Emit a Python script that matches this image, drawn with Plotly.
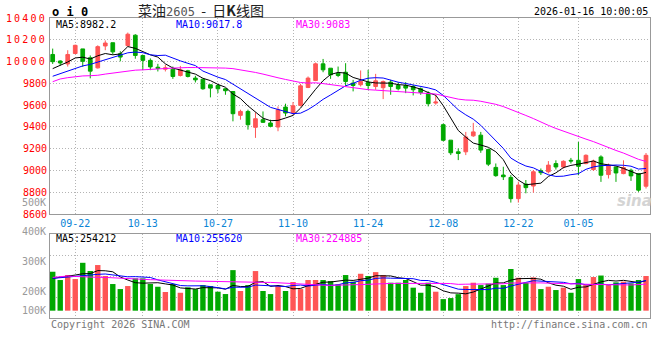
import plotly.graph_objects as go

# ---------------- data ----------------
dates = ["09-17", "09-18", "09-19", "09-22", "09-23", "09-24", "09-25", "09-26", "09-29", "09-30",
         "10-09", "10-10", "10-13", "10-14", "10-15", "10-16", "10-17", "10-20", "10-21", "10-22",
         "10-23", "10-24", "10-27", "10-28", "10-29", "10-30", "10-31", "11-03", "11-04", "11-05",
         "11-06", "11-07", "11-10", "11-11", "11-12", "11-13", "11-14", "11-17", "11-18", "11-19",
         "11-20", "11-21", "11-24", "11-25", "11-26", "11-27", "11-28", "12-01", "12-02", "12-03",
         "12-04", "12-05", "12-08", "12-09", "12-10", "12-11", "12-12", "12-15", "12-16", "12-17",
         "12-18", "12-19", "12-22", "12-23", "12-24", "12-25", "12-26", "12-29", "12-30", "12-31",
         "01-05", "01-06", "01-07", "01-08", "01-09", "01-12", "01-13", "01-14", "01-15", "01-16"]

opens = [10065, 10005, 9978, 10074, 10116, 10035, 9942, 10143, 10173, 10071,
         10146, 10242, 10056, 10011, 9948, 9930, 9930, 9872, 9915, 9848,
         9838, 9787, 9780, 9750, 9725, 9506, 9542, 9396, 9466, 9436,
         9399, 9582, 9527, 9597, 9762, 9826, 9979, 9939, 9893, 9902,
         9802, 9787, 9808, 9771, 9760, 9811, 9780, 9780, 9771, 9750,
         9710, 9619, 9420, 9278, 9171, 9171, 9318, 9324, 9193, 9028,
         8958, 8936, 8741, 8875, 8857, 8997, 8988, 9063, 9032, 9093,
         9093, 9063, 9008, 9124, 8962, 9032, 8971, 9002, 8971, 8855]
highs = [10119, 10011, 10104, 10155, 10116, 10056, 10149, 10194, 10173, 10095,
         10266, 10251, 10060, 10029, 9979, 9970, 9954, 9960, 9924, 9869,
         9838, 9787, 9793, 9756, 9725, 9558, 9558, 9533, 9542, 9466,
         9588, 9613, 9628, 9796, 9863, 9991, 10024, 9939, 9954, 9985,
         9832, 9918, 9924, 9887, 9826, 9832, 9811, 9811, 9787, 9762,
         9726, 9695, 9430, 9278, 9202, 9354, 9437, 9354, 9193, 9064,
         9034, 8958, 8897, 8912, 9004, 9018, 9086, 9093, 9093, 9115,
         9261, 9148, 9099, 9139, 9063, 9032, 9093, 9017, 8977, 9160]
lows = [9978, 9963, 9954, 10068, 9951, 9846, 9936, 10104, 10065, 10002,
        10140, 10026, 9921, 9921, 9909, 9909, 9841, 9863, 9854, 9808,
        9741, 9671, 9710, 9695, 9451, 9466, 9375, 9299, 9436, 9396,
        9360, 9497, 9512, 9588, 9756, 9820, 9902, 9841, 9857, 9777,
        9726, 9771, 9741, 9741, 9655, 9695, 9735, 9710, 9689, 9695,
        9588, 9604, 9268, 9141, 9095, 9141, 9308, 9162, 9040, 8942,
        8912, 8705, 8705, 8790, 8796, 8958, 8973, 9008, 9017, 9063,
        8956, 9057, 8996, 8895, 8926, 8895, 8965, 8904, 8804, 8834]
closes = [9999, 9987, 10065, 10149, 10002, 9912, 10137, 10170, 10089, 10041,
          10251, 10056, 10011, 9951, 9936, 9942, 9863, 9924, 9863, 9832,
          9750, 9756, 9750, 9732, 9521, 9542, 9420, 9475, 9442, 9405,
          9558, 9527, 9594, 9777, 9848, 9979, 9924, 9878, 9872, 9817,
          9780, 9817, 9780, 9823, 9817, 9771, 9750, 9756, 9741, 9716,
          9613, 9628, 9277, 9162, 9156, 9308, 9354, 9187, 9058, 8952,
          8942, 8741, 8866, 8842, 8988, 8979, 9049, 9032, 9084, 9087,
          9038, 9139, 9087, 8956, 9047, 8977, 9026, 8950, 8819, 9139]
volumes = [330120, 259870, 302350, 268040, 405880, 336210, 386930, 294170, 225940, 183260,
           208810, 274120, 273960, 226050, 202870, 158230, 225980, 151890, 198140, 182960,
           216870, 209150, 160940, 141120, 343860, 167050, 216930, 335880, 167140, 140920,
           209060, 166870, 243110, 183040, 259920, 260130, 259870, 251040, 222960, 302110,
           245880, 312940, 294060, 326880, 302150, 236940, 237080, 259960, 195040, 151920,
           237060, 160880, 98050, 106960, 140030, 208940, 237050, 216960, 229040, 278960,
           217030, 353370, 279030, 236970, 282040, 183010, 202960, 175030, 194970, 152010,
           267980, 217010, 285170, 297990, 216990, 240010, 245990, 231000, 259950, 294110]

# moving-average values before enough history is on screen
ma5_lead = [9935, 9965, 9996, 10033]
ma10_lead = [9865, 9889, 9914, 9941, 9960, 9974, 9996, 10011, 10036]
ma30_lead = [9815, 9840, 9852, 9862, 9868, 9870, 9874, 9885, 9895, 9906,
             9915, 9921, 9924, 9926, 9934, 9936, 9940, 9944, 9945, 9945,
             9945, 9945, 9944, 9940, 9935, 9925, 9912, 9900, 9885]
vol_ma5_lead = [274000, 282000, 294000, 302000]
vol_ma10_lead = [274000, 280000, 285000, 294000, 299000, 305000, 308000, 311000, 302000]
vol_ma30_lead = [282000, 288000, 294000, 290000, 286000, 284000, 283000, 282000, 280000, 276000,
                 272000, 268000, 266000, 263000, 260000, 258000, 256000, 254000, 252000, 251000,
                 250000, 248000, 246000, 244000, 242000, 241000, 240000, 240000, 240000]

tick_dates = ["09-22", "10-13", "10-27", "11-10", "11-24", "12-08", "12-22", "01-05"]
price_ticks = [8600, 8800, 9000, 9200, 9400, 9600, 9800, 10000, 10200, 10400]
vol_labels = ["500K", "400K", "300K", "200K", "100K"]

# ---------------- helpers ----------------
def moving(vals, n, lead):
    out = list(lead)
    for i in range(n - 1, len(vals)):
        out.append(sum(vals[i - n + 1:i + 1]) / n)
    return out

ma5 = moving(closes, 5, ma5_lead)
ma10 = moving(closes, 10, ma10_lead)
ma30 = moving(closes, 30, ma30_lead)
vma5 = moving(volumes, 5, vol_ma5_lead)
vma10 = moving(volumes, 10, vol_ma10_lead)
vma30 = moving(volumes, 30, vol_ma30_lead)

RED = "#FF5555"
GREEN = "#00A800"
MONO = "DejaVu Sans Mono"
GRID = "#b4b4b4"
DASH = "1px,2px"
BORDER = "#999999"

bar_colors = [RED if c >= o else GREEN for o, c in zip(opens, closes)]

fig = go.Figure()
fig.add_trace(go.Candlestick(
    x=dates, open=opens, high=highs, low=lows, close=closes,
    increasing=dict(line=dict(color=RED, width=1), fillcolor=RED),
    decreasing=dict(line=dict(color=GREEN, width=1), fillcolor=GREEN),
    whiskerwidth=0, showlegend=False, hoverinfo="skip", xaxis="x", yaxis="y"))
for vals, col in ((ma5, "#000000"), (ma10, "#0000FF"), (ma30, "#FF00FF")):
    fig.add_trace(go.Scatter(x=dates, y=vals, mode="lines", line=dict(color=col, width=1),
                             showlegend=False, hoverinfo="skip", xaxis="x", yaxis="y"))

fig.add_trace(go.Bar(x=dates, y=volumes, marker=dict(color=bar_colors, line=dict(width=0)),
                     width=0.72, showlegend=False, hoverinfo="skip", xaxis="x2", yaxis="y2"))
for vals, col in ((vma5, "#000000"), (vma10, "#0000FF"), (vma30, "#FF00FF")):
    fig.add_trace(go.Scatter(x=dates, y=vals, mode="lines", line=dict(color=col, width=1),
                             showlegend=False, hoverinfo="skip", xaxis="x2", yaxis="y2"))

W, H, L, R, T, B = 660, 360, 50, 10, 18, 42
PW, PH = W - L - R, H - T - B


def ann(text, xp, yp, xanchor="left", color="#000", size=10, family=MONO, **font):
    return dict(text=text, x=(xp - L) / PW, y=(H - B - yp) / PH, xref="paper", yref="paper",
                xanchor=xanchor, yanchor="middle", showarrow=False,
                font=dict(family=family, size=size, color=color, **font))


annotations = [
    ann("<b>o i 0</b>", 50, 12, size=12),
    ann("菜油<span style='font-family:DejaVu Sans Mono;font-size:12px;color:#555'>2605</span>"
        "&nbsp;&nbsp;-&nbsp;&nbsp;日<b>K</b>线图",
        201, 10, xanchor="center", color="#222", size=14, family="Noto Sans CJK SC"),
    ann("2026-01-16 10:00:05", 650, 12, xanchor="right"),
    ann("MA5:%.1f" % ma5[-1], 54, 24),
    ann("MA10:%.1f" % ma10[-1], 174, 24, color="#0000FF"),
    ann("MA30:%d" % round(ma30[-1]), 294, 24, color="#FF00FF"),
    ann("MA5:%d" % round(vma5[-1]), 54, 238, ),
    ann("MA10:%d" % round(vma10[-1]), 174, 238, color="#0000FF"),
    ann("MA30:%d" % round(vma30[-1]), 294, 238, color="#FF00FF"),
    ann("Copyright 2026 SINA.COM", 49, 324, color="#777"),
    ann("http://finance.sina.com.cn", 650, 324, xanchor="right", color="#777"),
    ann("sina", 634, 201, xanchor="center", color="#d4d4d4", size=15, family="DejaVu Sans",
        weight="bold", style="italic"),
]
for lab, yp in zip(vol_labels, [202, 231, 261, 291, 310]):
    annotations.append(ann(lab, 48, yp, xanchor="right", color="#999"))


def price_label(v):
    s = str(v)
    if len(s) > 4:
        return "<span style='letter-spacing:2.2px'>%s</span>" % s
    return s


vol_lo, vol_hi = -62000, 650000
vq = (vol_hi - vol_lo) / 4

common_x = dict(type="category", range=[-0.36, 79.53], showgrid=True, gridcolor=GRID, griddash=DASH,
                gridwidth=1, showline=True, linecolor=BORDER, linewidth=1, mirror=True, ticks="",
                tickvals=tick_dates, ticktext=tick_dates, zeroline=False, fixedrange=True,
                automargin=False)

fig.update_layout(
    width=W, height=H, autosize=False,
    margin=dict(l=L, r=R, t=T, b=B, pad=0, autoexpand=False),
    paper_bgcolor="white", plot_bgcolor="white",
    showlegend=False,
    xaxis=dict(common_x, anchor="y", domain=[0, 1], rangeslider=dict(visible=False),
               tickfont=dict(family=MONO, size=10, color="#0A84D6")),
    xaxis2=dict(common_x, anchor="y2", domain=[0, 1], matches="x", showticklabels=False),
    yaxis=dict(domain=[104 / PH, 1], range=[8600, 10400], tickvals=price_ticks,
               ticktext=[price_label(v) for v in price_ticks], automargin=False,
               showgrid=True, gridcolor=GRID, griddash=DASH, showline=True, linecolor=BORDER,
               mirror=True, ticks="", zeroline=False, fixedrange=True,
               tickfont=dict(family=MONO, size=10, color="#FF0000")),
    yaxis2=dict(domain=[0, 84 / PH], range=[vol_lo, vol_hi], automargin=False,
                tickvals=[vol_lo + vq, vol_lo + 2 * vq, vol_lo + 3 * vq],
                showticklabels=False, showgrid=True, gridcolor=GRID, griddash=DASH,
                showline=True, linecolor=BORDER, mirror=True, ticks="", zeroline=False,
                fixedrange=True),
    annotations=annotations,
)

fig.write_html("out.html", config={"displayModeBar": False},
               post_script="document.body.style.margin='0px';")
